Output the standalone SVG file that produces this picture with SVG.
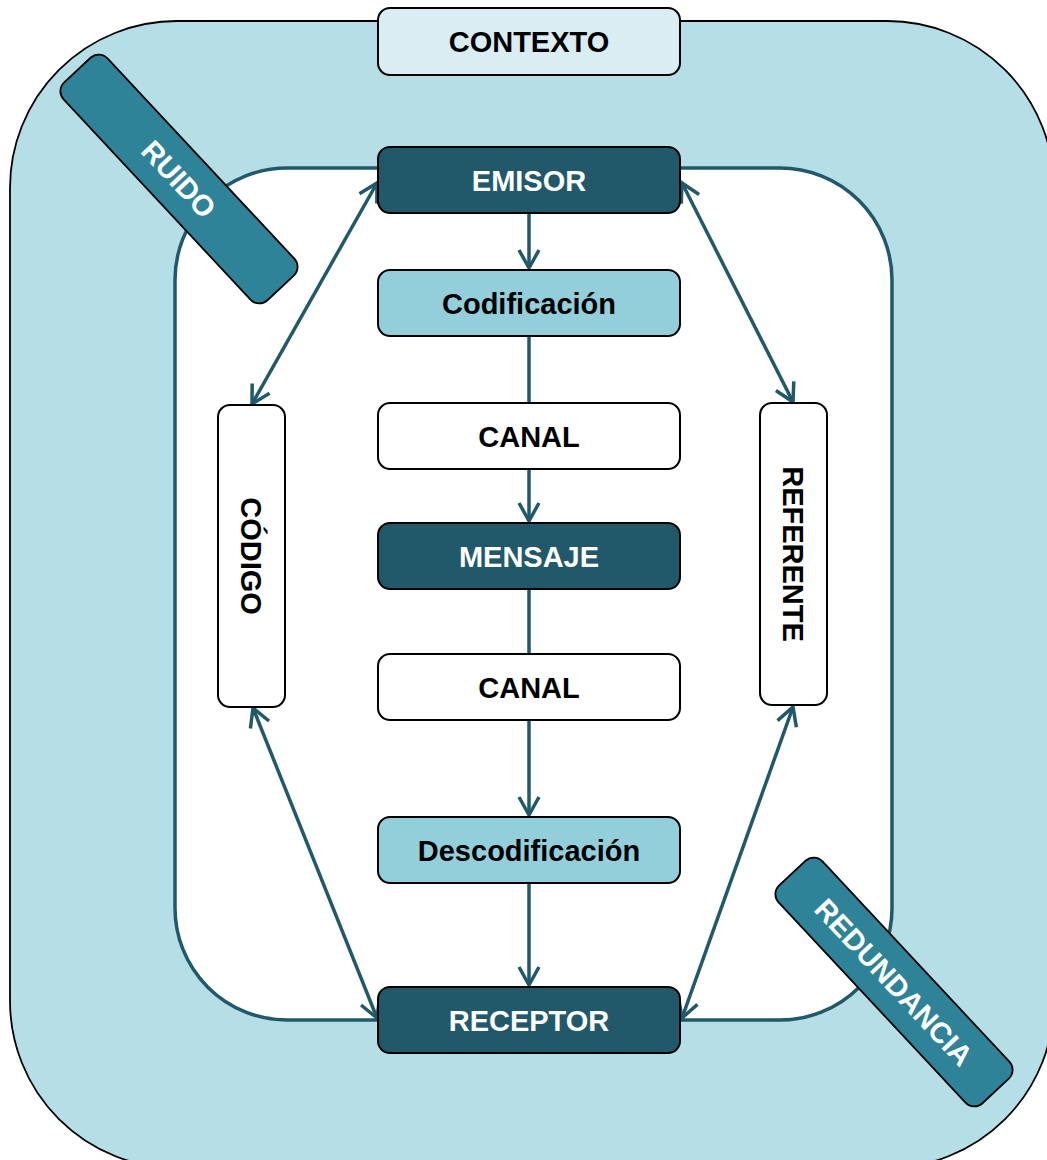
<svg xmlns="http://www.w3.org/2000/svg" width="1047" height="1160" viewBox="0 0 1047 1160">
  <style>
    .node { stroke: #000; stroke-width: 2; }
    .dark { fill: #22596a; }
    .light { fill: #93cedb; }
    .plain { fill: #ffffff; }
    .ctx { fill: #daedf2; }
    .tag { fill: #2f8399; stroke: #000; stroke-width: 1.8; }
    .lbl { font-family: "Liberation Sans", Arial, sans-serif; font-weight: bold; font-size: 29px; text-anchor: middle; }
    .w { fill: #ffffff; }
    .k { fill: #000000; }
    .edge { stroke: #22596a; stroke-width: 3.5; fill: none; }
  </style>
  <defs>
    <marker id="arrow" markerUnits="userSpaceOnUse" viewBox="-22 -14 26 28" refX="0" refY="0" markerWidth="26" markerHeight="28" orient="auto-start-reverse">
      <path d="M-18,-10 L0,0 L-18,10" fill="none" stroke="#22596a" stroke-width="3.5" stroke-linejoin="miter"/>
    </marker>
  </defs>

  <!-- context band -->
  <rect x="10" y="21" width="1044" height="1147" rx="167" ry="167" fill="#b6dee7" stroke="#000" stroke-width="1.8"/>
  <!-- communication area -->
  <rect x="175" y="168" width="717" height="852" rx="112" ry="112" fill="#ffffff" stroke="#22596a" stroke-width="3.5"/>

  <g id="connectors">
    <line class="edge" x1="529" y1="213" x2="529" y2="268" marker-end="url(#arrow)"/>
    <line class="edge" x1="529" y1="336" x2="529" y2="403"/>
    <line class="edge" x1="529" y1="469" x2="529" y2="521" marker-end="url(#arrow)"/>
    <line class="edge" x1="529" y1="589" x2="529" y2="654"/>
    <line class="edge" x1="529" y1="720" x2="529" y2="815" marker-end="url(#arrow)"/>
    <line class="edge" x1="529" y1="883" x2="529" y2="985" marker-end="url(#arrow)"/>
    <line class="edge" x1="377" y1="183" x2="252" y2="404" marker-start="url(#arrow)" marker-end="url(#arrow)"/>
    <line class="edge" x1="682" y1="183" x2="793" y2="402" marker-start="url(#arrow)" marker-end="url(#arrow)"/>
    <line class="edge" x1="253" y1="708" x2="377" y2="1018" marker-start="url(#arrow)" marker-end="url(#arrow)"/>
    <line class="edge" x1="793" y1="707" x2="682" y2="1018" marker-start="url(#arrow)" marker-end="url(#arrow)"/>
  </g>

  <g id="contexto">
    <rect class="node ctx" x="378" y="8" width="302" height="67" rx="12"/>
    <text class="lbl k" x="529" y="52">CONTEXTO</text>
  </g>
  <g id="emisor">
    <rect class="node dark" x="378" y="147" width="302" height="66" rx="12"/>
    <text class="lbl w" x="529" y="190.5">EMISOR</text>
  </g>
  <g id="codificacion">
    <rect class="node light" x="378" y="270" width="302" height="66" rx="12"/>
    <text class="lbl k" x="529" y="313.5">Codificación</text>
  </g>
  <g id="canal1">
    <rect class="node plain" x="378" y="403" width="302" height="66" rx="12"/>
    <text class="lbl k" x="529" y="446.5">CANAL</text>
  </g>
  <g id="mensaje">
    <rect class="node dark" x="378" y="523" width="302" height="66" rx="12"/>
    <text class="lbl w" x="529" y="566.5">MENSAJE</text>
  </g>
  <g id="canal2">
    <rect class="node plain" x="378" y="654" width="302" height="66" rx="12"/>
    <text class="lbl k" x="529" y="697.5">CANAL</text>
  </g>
  <g id="descodificacion">
    <rect class="node light" x="378" y="817" width="302" height="66" rx="12"/>
    <text class="lbl k" x="529" y="860.5">Descodificación</text>
  </g>
  <g id="receptor">
    <rect class="node dark" x="378" y="987" width="302" height="66" rx="12"/>
    <text class="lbl w" x="529" y="1030.5">RECEPTOR</text>
  </g>
  <g id="codigo">
    <rect class="node plain" x="218" y="405" width="67" height="302" rx="12"/>
    <text class="lbl k" transform="translate(251.5,556) rotate(90)" x="0" y="10.5">CÓDIGO</text>
  </g>
  <g id="referente">
    <rect class="node plain" x="760" y="403" width="67" height="302" rx="12"/>
    <text class="lbl k" transform="translate(793.5,554) rotate(90)" x="0" y="10.5">REFERENTE</text>
  </g>
  <g id="ruido" transform="translate(179,179) rotate(47)">
    <rect class="tag" x="-149" y="-30" width="298" height="60" rx="12"/>
    <text class="lbl w" x="0" y="10.5">RUIDO</text>
  </g>
  <g id="redundancia" transform="translate(894,982) rotate(47)">
    <rect class="tag" x="-149" y="-30" width="298" height="60" rx="12"/>
    <text class="lbl w" x="0" y="10.5">REDUNDANCIA</text>
  </g>
</svg>
